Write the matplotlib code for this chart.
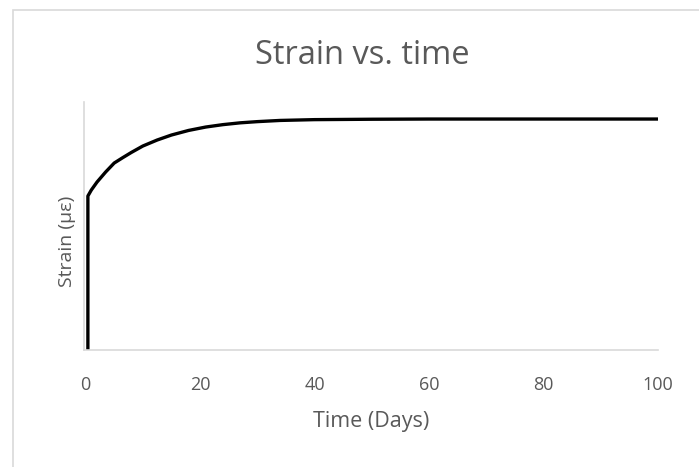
import matplotlib.pyplot as plt
from matplotlib.patches import Rectangle

# Creep strain curve: time in days, strain in microstrain
days = [0.4, 0.4, 1, 2, 3.5, 5, 6.5, 8, 10, 12.5, 15, 18, 21, 24, 27, 30, 34, 40, 50, 60, 80, 100]
strain = [0, 770, 800, 840, 890, 935, 962, 988, 1020, 1050, 1075, 1098, 1115, 1127, 1136, 1142, 1148, 1152, 1154, 1155, 1155, 1155]
x_ticks = [0, 20, 40, 60, 80, 100]

plt.rcParams['font.family'] = ['Open Sans', 'DejaVu Sans']
text_color = "#595959"
axis_color = "#d9d9d9"

fig = plt.figure(figsize=(6.99, 4.67), dpi=100)
fig.patches.append(Rectangle((13 / 699, -0.05), 1.0, 1 - 10 / 467 + 0.05,
                             transform=fig.transFigure, fill=False,
                             edgecolor="#d9d9d9", linewidth=1.2))

ax = fig.add_axes([0.120, 0.2505, 0.821, 0.531])
ax.plot(days, strain, color="black", linewidth=2.4, solid_joinstyle="round")

ax.set_xlim(-0.3, 100)
ax.set_ylim(0, 1240)
ax.set_xticks(x_ticks)
ax.set_yticks([])

for side in ["top", "right"]:
    ax.spines[side].set_visible(False)
for side in ["left", "bottom"]:
    ax.spines[side].set_color(axis_color)
    ax.spines[side].set_linewidth(1.2)

ax.tick_params(axis="x", length=0, pad=19, labelsize=13, labelcolor=text_color)
ax.set_xlabel("Time (Days)", fontsize=15.5, color=text_color, labelpad=12)
ax.set_ylabel("Strain (\u03bc\u03b5)", fontsize=14, color=text_color)
ax.yaxis.set_label_coords(-0.014, 0.44)

fig.suptitle("Strain vs. time", fontsize=23.5, color=text_color, x=0.518, y=0.917)

fig.savefig("out.png", dpi=100)
